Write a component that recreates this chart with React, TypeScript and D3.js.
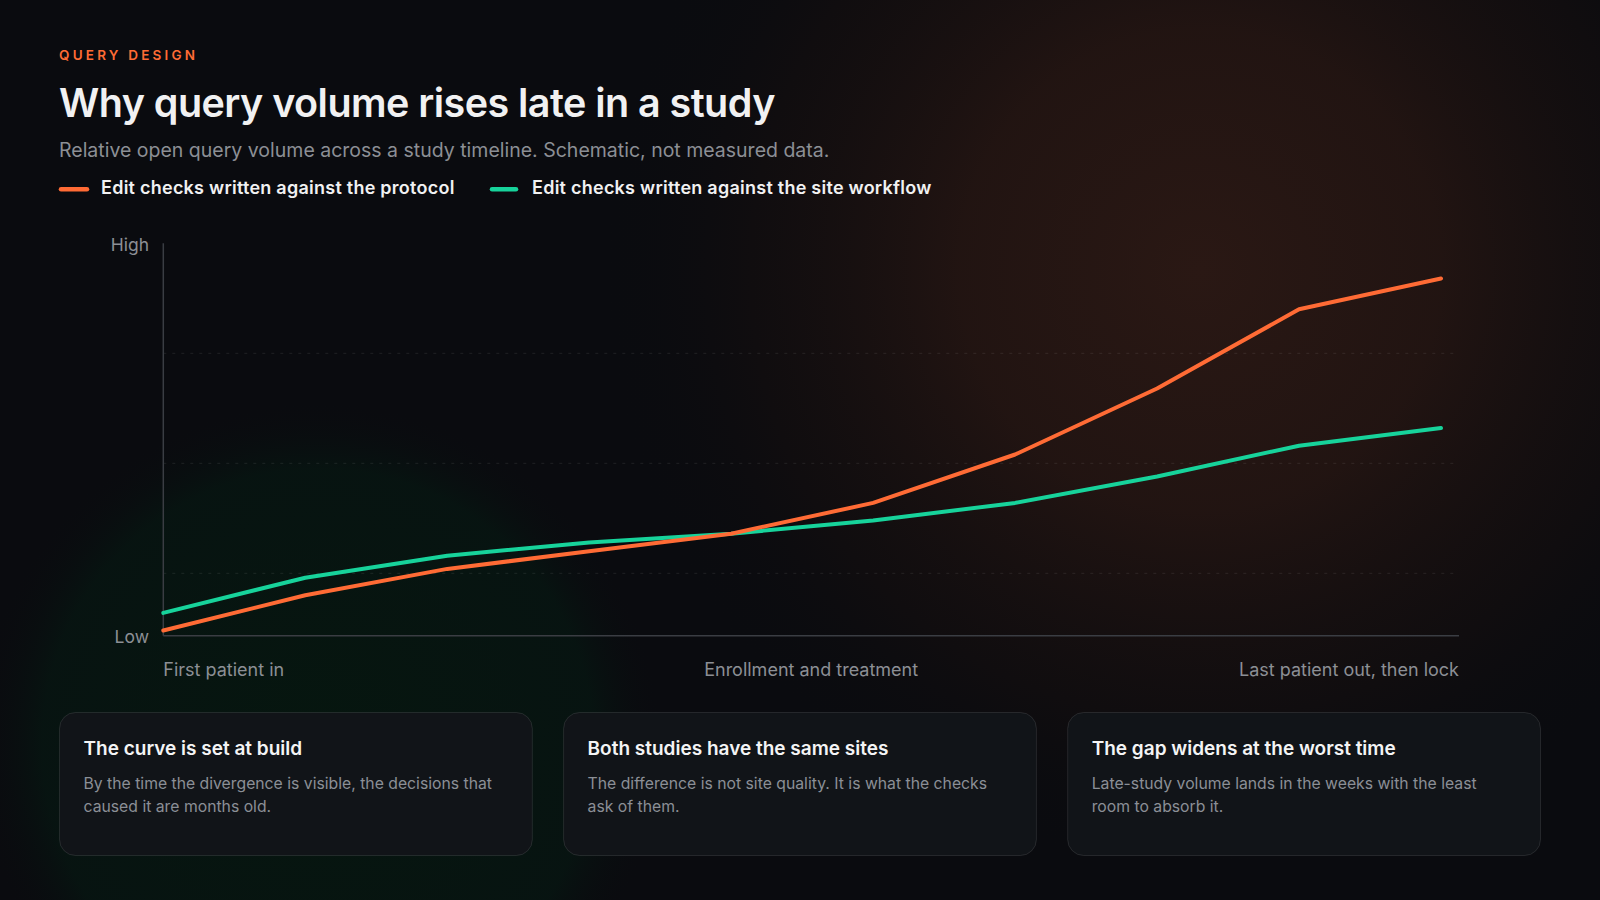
import React from "react";
import * as d3 from "d3";

const stages: number[] = [0, 1, 2, 3, 4, 5, 6, 7, 8, 9];
const protocolSeries: number[] = [12, 20, 26, 30, 34, 41, 52, 67, 85, 92];
const workflowSeries: number[] = [16, 24, 29, 32, 34, 37, 41, 47, 54, 58];
const gridValues: number[] = [25, 50, 75];
const axisLowValue = 10.8;
const axisHighValue = 100;
const xLabels: string[] = ["First patient in", "Enrollment and treatment", "Last patient out, then lock"];
const legendLabels: string[] = [
  "Edit checks written against the protocol",
  "Edit checks written against the site workflow",
];
const cardTitles: string[] = [
  "The curve is set at build",
  "Both studies have the same sites",
  "The gap widens at the worst time",
];
const cardBodies: string[][] = [
  ["By the time the divergence is visible, the decisions that", "caused it are months old."],
  ["The difference is not site quality. It is what the checks", "ask of them."],
  ["Late-study volume lands in the weeks with the least", "room to absorb it."],
];

const W = 1600;
const H = 900;
const ORANGE = "#ff6b35";
const GREEN = "#17d39b";
const FONT = "Inter, 'Noto Sans', sans-serif";

export default function App() {
  const x = d3.scaleLinear().domain([0, 9]).range([163.3, 1441]);
  const y = d3.scaleLinear().domain([0, 100]).range([683.3, 243.3]);
  const axisLeft = 163.3;
  const axisRight = 1459;
  const line = d3
    .line<number>()
    .x((_, i) => x(stages[i]))
    .y((d) => y(d));

  const cardX = d3.scaleBand<number>().domain([0, 1, 2]).range([59, 1541]).paddingInner(0.06);

  return (
    <svg
      width={W}
      height={H}
      style={{ position: "absolute", left: 0, top: 0, display: "block" }}
      fontFamily={FONT}
    >
      <defs>
        <radialGradient id="glowO" cx={1200} cy={270} r={600} gradientUnits="userSpaceOnUse">
          <stop offset="0" stopColor="#2a1814" stopOpacity={1} />
          <stop offset="0.4" stopColor="#241512" stopOpacity={0.9} />
          <stop offset="0.75" stopColor="#160f0f" stopOpacity={0.5} />
          <stop offset="1" stopColor="#0a0b0f" stopOpacity={0} />
        </radialGradient>
        <radialGradient id="glowG" cx={318} cy={745} r={345} gradientUnits="userSpaceOnUse">
          <stop offset="0" stopColor="#06160f" stopOpacity={1} />
          <stop offset="0.8" stopColor="#071411" stopOpacity={0.95} />
          <stop offset="1" stopColor="#0a0b0f" stopOpacity={0} />
        </radialGradient>
      </defs>
      <rect x={0} y={0} width={W} height={H} fill="#0a0b0f" />
      <rect x={0} y={0} width={W} height={H} fill="url(#glowO)" />
      <rect x={0} y={0} width={W} height={H} fill="url(#glowG)" />

      {/* Header */}
      <text x={59} y={60} fill={ORANGE} fontSize={13.5} fontWeight={600} letterSpacing={3.2}>
        QUERY DESIGN
      </text>
      <text x={59} y={117} fill="#f1f1f2" fontSize={39.5} fontWeight={600} letterSpacing={-0.55}>
        Why query volume rises late in a study
      </text>
      <text x={59} y={157} fill="#8c8f95" fontSize={19.5}>
        Relative open query volume across a study timeline. Schematic, not measured data.
      </text>

      {/* Legend */}
      <line x1={61} x2={87} y1={189.3} y2={189.3} stroke={ORANGE} strokeWidth={4.5} strokeLinecap="round" />
      <text x={101} y={194} fill="#f1f1f2" fontSize={18} fontWeight={600} letterSpacing={0.25}>
        {legendLabels[0]}
      </text>
      <line x1={492} x2={516} y1={189.3} y2={189.3} stroke={GREEN} strokeWidth={4.5} strokeLinecap="round" />
      <text x={532} y={194} fill="#f1f1f2" fontSize={18} fontWeight={600} letterSpacing={0.25}>
        {legendLabels[1]}
      </text>

      {/* Grid */}
      {gridValues.map((v) => (
        <line
          key={v}
          x1={axisLeft}
          x2={axisRight}
          y1={y(v)}
          y2={y(v)}
          stroke="#ffffff"
          strokeOpacity={0.09}
          strokeWidth={1}
          strokeDasharray="3 6"
        />
      ))}

      {/* Axes */}
      <line x1={axisLeft} x2={axisLeft} y1={y(axisHighValue)} y2={y(axisLowValue)} stroke="#3a3d43" strokeWidth={1.5} />
      <line x1={axisLeft} x2={axisRight} y1={y(axisLowValue)} y2={y(axisLowValue)} stroke="#3a3d43" strokeWidth={1.5} />
      <text x={149} y={y(axisHighValue) + 8} textAnchor="end" fill="#8c8f95" fontSize={17.5}>
        High
      </text>
      <text x={149} y={y(axisLowValue) + 7} textAnchor="end" fill="#8c8f95" fontSize={17.5}>
        Low
      </text>
      <text x={axisLeft} y={675.5} fill="#8c8f95" fontSize={18}>
        {xLabels[0]}
      </text>
      <text x={(axisLeft + axisRight) / 2} y={675.5} textAnchor="middle" fill="#8c8f95" fontSize={18}>
        {xLabels[1]}
      </text>
      <text x={axisRight} y={675.5} textAnchor="end" fill="#8c8f95" fontSize={18}>
        {xLabels[2]}
      </text>

      {/* Lines */}
      <path d={line(workflowSeries) || ""} fill="none" stroke={GREEN} strokeWidth={4} strokeLinejoin="round" strokeLinecap="round" />
      <path d={line(protocolSeries) || ""} fill="none" stroke={ORANGE} strokeWidth={4} strokeLinejoin="round" strokeLinecap="round" />

      {/* Cards */}
      {cardTitles.map((t, i) => {
        const cx = cardX(i) as number;
        return (
          <g key={t}>
            <rect
              x={cx + 0.5}
              y={712.5}
              width={cardX.bandwidth() - 1}
              height={143}
              rx={16}
              fill="#111418"
              stroke="#ffffff"
              strokeOpacity={0.1}
            />
            <text x={cx + 24.5} y={755} fill="#f4f4f5" fontSize={19} fontWeight={600}>
              {t}
            </text>
            {cardBodies[i].map((ln, j) => (
              <text key={j} x={cx + 24.5} y={789 + j * 22.5} fill="#8b8f96" fontSize={15.75}>
                {ln}
              </text>
            ))}
          </g>
        );
      })}
    </svg>
  );
}
